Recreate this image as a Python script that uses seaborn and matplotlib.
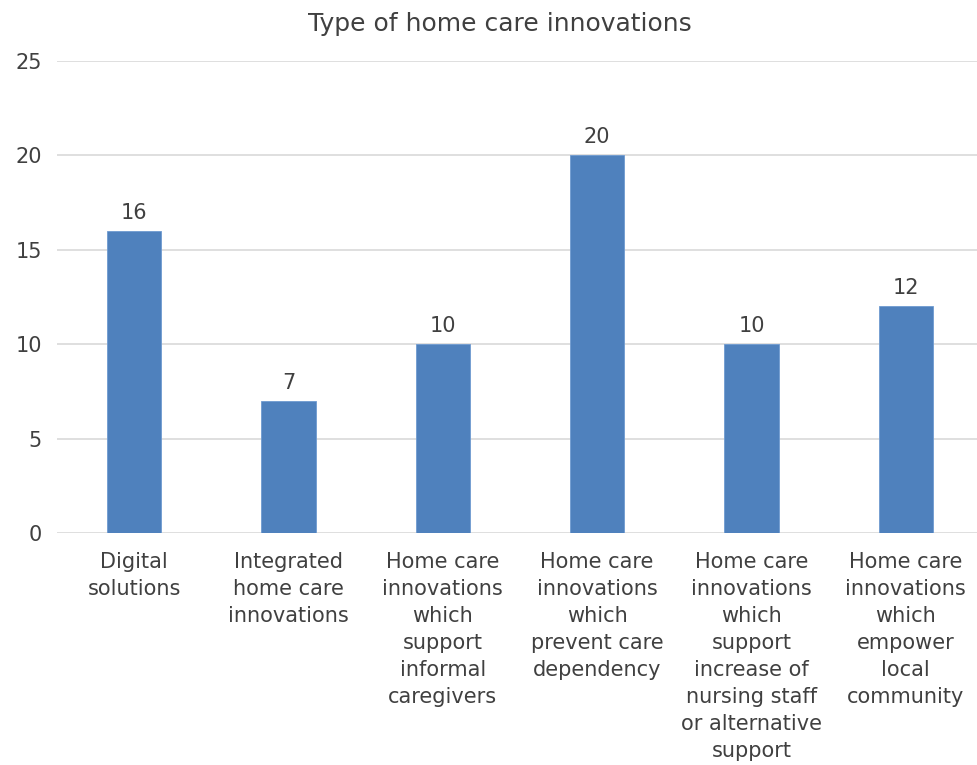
import pandas as pd
import seaborn as sns
import matplotlib.pyplot as plt

# data
categories = [
    "Digital\nsolutions",
    "Integrated\nhome care\ninnovations",
    "Home care\ninnovations\nwhich\nsupport\ninformal\ncaregivers",
    "Home care\ninnovations\nwhich\nprevent care\ndependency",
    "Home care\ninnovations\nwhich\nsupport\nincrease of\nnursing staff\nor alternative\nsupport",
    "Home care\ninnovations\nwhich\nempower\nlocal\ncommunity",
]
counts = [16, 7, 10, 20, 10, 12]

df = pd.DataFrame({"category": categories, "count": counts})

sns.set_style("white")
plt.rcParams["font.family"] = ["DejaVu Sans"]
text_col = "#404040"

fig = plt.figure(figsize=(9.78, 7.65), dpi=100)
ax = fig.add_axes([57 / 978, 232 / 765, 926 / 978, 472 / 765])

sns.barplot(data=df, x="category", y="count", color="#4F81BD", saturation=1,
            width=0.35, ax=ax, edgecolor="#6f9bd1", linewidth=0.6)

ax.set_ylim(0, 25)
ax.set_yticks([0, 5, 10, 15, 20, 25])
ax.yaxis.grid(True, color="#d9d9d9", linewidth=1.2)
ax.set_axisbelow(True)
for s in ax.spines.values():
    s.set_visible(False)
ax.set_xlabel("")
ax.set_ylabel("")
ax.tick_params(axis="both", length=0, labelsize=15, labelcolor=text_col)
ax.tick_params(axis="y", pad=11)
ax.tick_params(axis="x", pad=14)
plt.setp(ax.get_xticklabels(), ha="center", linespacing=1.43)

for c in ax.containers:
    ax.bar_label(c, fmt="%d", padding=6, fontsize=15, color=text_col)

fig.text(500 / 978, 1 - 24 / 765, "Type of home care innovations", ha="center", va="center",
         fontsize=18, color=text_col)

fig.savefig("out.png", dpi=100)
